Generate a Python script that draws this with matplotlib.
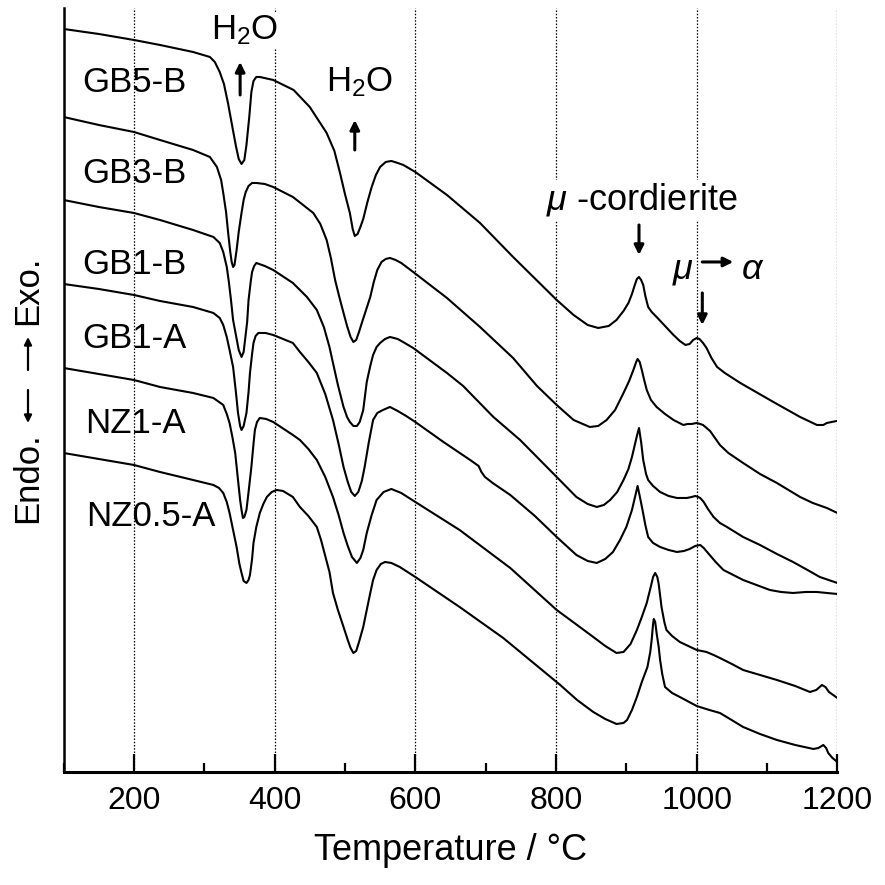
import matplotlib
matplotlib.use("Agg")
import matplotlib.pyplot as plt
from matplotlib.ticker import MultipleLocator

plt.rcParams['font.family'] = ['Liberation Sans', 'DejaVu Sans']
plt.rcParams['mathtext.fontset'] = 'custom'
plt.rcParams['mathtext.rm'] = 'Liberation Sans'
plt.rcParams['mathtext.it'] = 'Liberation Sans:italic'

# ---- data: (temperature degC, DTA signal in arbitrary units) ----
gb5b = [(100, 743), (150, 738), (200, 732), (237, 727), (284, 720), (308, 715), (315, 710), (322, 700),
        (328, 688), (334, 668), (340, 645), (345, 626), (349, 613), (353, 608), (357, 612), (360, 627),
        (364, 655), (367, 680), (370, 691), (374, 695), (379, 695), (398, 692), (427, 682), (450, 665),
        (474, 639), (485, 621), (493, 599), (500, 578), (507, 559), (511, 543), (514, 536), (518, 538),
        (522, 545), (526, 553), (532, 570), (538, 585), (544, 597), (550, 605), (558, 610), (566, 611),
        (575, 609), (583, 607), (600, 600), (645, 577), (692, 549), (739, 515), (801, 472), (825, 457),
        (845, 447), (860, 444), (875, 446), (886, 452), (896, 461), (903, 469), (908, 478), (912, 487),
        (915, 493), (918, 495), (921, 492), (924, 487), (927, 476), (931, 465), (936, 460), (943, 455),
        (955, 446), (967, 437), (976, 431), (984, 427), (990, 428), (995, 432), (1000, 434), (1004, 433),
        (1009, 429), (1014, 424), (1021, 414), (1029, 405), (1040, 399), (1062, 389), (1109, 370),
        (1147, 355), (1171, 347), (1180, 347), (1185, 349), (1192, 350), (1199, 351)]

gb3b = [(100, 655), (150, 647), (200, 640), (237, 632), (284, 622), (308, 615), (318, 605), (324, 592),
        (327, 579), (331, 560), (334, 539), (337, 520), (339, 510), (341, 505), (343, 507), (346, 522),
        (349, 540), (353, 559), (356, 572), (359, 580), (363, 586), (368, 589), (374, 589), (386, 588),
        (398, 585), (426, 575), (455, 559), (465, 548), (474, 532), (480, 514), (486, 492), (492, 475),
        (498, 459), (503, 446), (508, 435), (512, 430), (516, 432), (520, 440), (524, 449), (530, 462),
        (536, 475), (541, 490), (546, 502), (552, 510), (558, 513), (564, 514), (572, 512), (580, 509),
        (597, 500), (645, 474), (692, 445), (739, 414), (773, 386), (801, 367), (825, 352), (848, 345),
        (860, 346), (872, 352), (884, 362), (896, 379), (904, 391), (910, 402), (914, 410), (916, 413),
        (919, 410), (922, 402), (925, 393), (929, 382), (935, 372), (943, 365), (955, 358), (967, 352),
        (981, 347), (987, 348), (993, 348), (1000, 349), (1005, 348), (1009, 347), (1014, 344),
        (1019, 341), (1026, 334), (1033, 327), (1045, 319), (1066, 309), (1090, 298), (1114, 289),
        (1147, 275), (1165, 269), (1185, 264), (1200, 259)]

gb1b = [(100, 572), (150, 565), (200, 559), (237, 552), (284, 542), (313, 535), (322, 529), (327, 520),
        (332, 505), (335, 490), (338, 472), (341, 452), (345, 437), (349, 422), (353, 415), (356, 420),
        (358, 432), (361, 450), (363, 472), (366, 490), (368, 500), (371, 506), (374, 509), (386, 506),
        (398, 502), (426, 489), (446, 475), (460, 462), (470, 445), (478, 425), (483, 409), (490, 387),
        (498, 365), (503, 355), (507, 350), (512, 346), (517, 346), (521, 350), (526, 362), (531, 390),
        (536, 406), (540, 417), (545, 425), (550, 429), (557, 433), (564, 435), (575, 433), (585, 429),
        (597, 424), (645, 399), (668, 386), (711, 355), (749, 332), (801, 295), (829, 275), (845, 268),
        (858, 265), (868, 267), (877, 272), (887, 280), (896, 292), (903, 303), (908, 315), (912, 327),
        (915, 336), (918, 344), (921, 330), (924, 312), (928, 298), (931, 292), (938, 286), (948, 280),
        (960, 276), (972, 274), (986, 274), (993, 275), (998, 276), (1002, 275), (1005, 274),
        (1010, 270), (1016, 263), (1024, 255), (1033, 249), (1043, 245), (1066, 235), (1090, 227),
        (1114, 218), (1137, 210), (1160, 201), (1175, 195), (1200, 189)]

gb1a = [(100, 488), (150, 483), (200, 477), (237, 471), (284, 465), (313, 459), (322, 454), (327, 447),
        (332, 435), (336, 422), (341, 405), (345, 380), (348, 359), (351, 346), (353, 342), (356, 346),
        (360, 359), (363, 380), (365, 399), (368, 418), (370, 429), (373, 436), (377, 439), (387, 439),
        (398, 437), (426, 429), (436, 420), (448, 410), (460, 399), (472, 378), (483, 352), (491, 328),
        (498, 305), (504, 290), (509, 280), (514, 276), (519, 280), (524, 291), (528, 305), (534, 330),
        (540, 352), (546, 359), (554, 362), (564, 365), (575, 361), (587, 356), (600, 350), (640, 330),
        (678, 312), (690, 306), (694, 300), (699, 295), (710, 289), (735, 277), (770, 256), (801, 235),
        (829, 217), (845, 211), (858, 209), (870, 213), (881, 220), (891, 232), (900, 245), (908, 262),
        (912, 274), (916, 286), (919, 276), (923, 262), (927, 247), (931, 235), (938, 229), (948, 225),
        (960, 222), (972, 220), (982, 221), (990, 223), (998, 226), (1005, 227), (1010, 224),
        (1016, 219), (1027, 210), (1038, 202), (1052, 197), (1066, 192), (1085, 187), (1104, 182),
        (1120, 180), (1137, 179), (1155, 180), (1171, 180), (1185, 179), (1200, 178)]

nz1a = [(100, 404), (150, 398), (200, 392), (237, 385), (284, 379), (313, 374), (321, 370), (327, 367),
        (332, 358), (336, 349), (340, 335), (344, 319), (348, 292), (351, 272), (353, 262), (355, 254),
        (357, 255), (360, 262), (363, 280), (367, 305), (370, 328), (372, 342), (375, 350), (379, 354),
        (388, 353), (398, 350), (426, 337), (436, 332), (448, 323), (460, 312), (472, 295), (483, 275),
        (491, 257), (498, 239), (504, 226), (510, 215), (517, 209), (522, 214), (526, 222), (531, 239),
        (538, 257), (545, 272), (555, 280), (566, 283), (580, 279), (600, 270), (663, 242), (735, 204),
        (801, 162), (830, 147), (853, 135), (870, 126), (886, 119), (896, 120), (906, 128), (915, 142),
        (922, 155), (929, 169), (935, 186), (938, 195), (941, 199), (944, 195), (946, 188), (950, 165),
        (954, 150), (957, 142), (965, 136), (976, 130), (1000, 122), (1014, 120), (1024, 117),
        (1033, 114), (1050, 108), (1066, 102), (1090, 97), (1114, 92), (1140, 86), (1161, 80),
        (1170, 82), (1178, 87), (1183, 85), (1188, 80), (1200, 74)]

nz05a = [(100, 319), (150, 313), (200, 307), (237, 300), (284, 292), (313, 287), (321, 284), (327, 279),
         (332, 270), (336, 259), (341, 242), (346, 225), (350, 208), (353, 199), (356, 191), (360, 189),
         (363, 192), (365, 197), (368, 213), (370, 229), (374, 245), (379, 259), (384, 268), (389, 275),
         (396, 280), (403, 282), (412, 281), (426, 275), (436, 265), (448, 256), (460, 245), (466, 232),
         (472, 216), (478, 200), (483, 179), (490, 162), (498, 145), (504, 132), (508, 124), (512, 119),
         (516, 121), (520, 130), (526, 145), (531, 162), (536, 179), (540, 192), (545, 202), (551, 208),
         (557, 210), (566, 209), (578, 205), (600, 195), (663, 165), (725, 134), (806, 87), (830, 72),
         (853, 60), (870, 53), (886, 48), (896, 49), (901, 52), (908, 62), (915, 75), (922, 90),
         (930, 105), (934, 120), (936, 132), (938, 148), (939, 153), (941, 150), (943, 139), (946, 125),
         (948, 112), (951, 98), (955, 85), (965, 79), (976, 75), (1000, 66), (1018, 62), (1033, 59),
         (1045, 54), (1066, 45), (1090, 38), (1114, 32), (1140, 27), (1166, 23), (1173, 24), (1180, 27),
         (1184, 24), (1187, 19), (1193, 14), (1200, 10)]

series = [gb5b, gb3b, gb1b, gb1a, nz1a, nz05a]
sample_names = ['GB5-B', 'GB3-B', 'GB1-B', 'GB1-A', 'NZ1-A', 'NZ0.5-A']
name_pos = [(126, 689), (126, 598), (126, 507), (127, 433), (131, 348), (132, 255)]
x_major = [200, 400, 600, 800, 1000, 1200]

fig = plt.figure(figsize=(8.85, 8.85), dpi=100)
ax = fig.add_axes([0.0718, 0.1277, 0.8744, 0.8633])

for pts in series:
    T = [p[0] for p in pts]
    y = [p[1] for p in pts]
    ax.plot(T, y, color='black', lw=1.5, solid_joinstyle='round', solid_capstyle='round', zorder=3)

ax.set_xlim(100, 1200)
ax.set_ylim(0, 764)
ax.set_xticks(x_major)
ax.xaxis.set_minor_locator(MultipleLocator(100))
ax.set_yticks([])
ax.tick_params(axis='x', which='major', direction='in', length=13, width=1.6,
               labelsize=23, pad=10)
ax.tick_params(axis='x', which='minor', direction='in', length=6.5, width=1.6)
for s in ['top', 'right']:
    ax.spines[s].set_visible(False)
ax.spines['left'].set_linewidth(1.8)
ax.spines['bottom'].set_linewidth(2.2)
ax.grid(axis='x', which='major', color='black', lw=0.9, linestyle=(0, (1.2, 1.4)), zorder=1)
ax.set_axisbelow(True)

ax.set_xlabel('Temperature / °C', fontsize=26, labelpad=12)

# y label built from pieces (text + arrows), rotated
fig.text(28 / 885, 1 - 478 / 885, 'Endo.', rotation=90, fontsize=25, ha='center', va='center')
fig.text(28 / 885, 1 - 290 / 885, 'Exo.', rotation=90, fontsize=25, ha='center', va='center')
yap = dict(arrowstyle='-|>', color='black', lw=1.6, mutation_scale=11, shrinkA=0, shrinkB=0)
ax.annotate('', xy=(28, 885 - 423), xytext=(28, 885 - 390), xycoords='figure pixels',
            textcoords='figure pixels', arrowprops=yap, annotation_clip=False)
ax.annotate('', xy=(28, 885 - 337), xytext=(28, 885 - 370), xycoords='figure pixels',
            textcoords='figure pixels', arrowprops=yap, annotation_clip=False)

for name, (tx, ty) in zip(sample_names, name_pos):
    ax.text(tx, ty, name, fontsize=25, ha='left', va='center', zorder=4)

bb = dict(facecolor='white', edgecolor='none', pad=1)
ax.text(358, 742, r'H$_2$O', fontsize=25, ha='center', va='center', bbox=bb, zorder=4)
ax.text(521, 690, r'H$_2$O', fontsize=25, ha='center', va='center', bbox=bb, zorder=4)
ax.text(922, 572, r'$\mu$ -cordierite', fontsize=26, ha='center', va='center', bbox=bb, zorder=4)
ax.text(981, 502, r'$\mu$', fontsize=26, ha='center', va='center', bbox=bb, zorder=4)
ax.text(1079, 502, r'$\alpha$', fontsize=26, ha='center', va='center', bbox=bb, zorder=4)

ap = dict(arrowstyle='-|>', color='black', lw=2.2, mutation_scale=14, shrinkA=0, shrinkB=0)
ax.annotate('', xy=(351, 710), xytext=(351, 677), arrowprops=ap, zorder=5)
ax.annotate('', xy=(514, 652), xytext=(514, 622), arrowprops=ap, zorder=5)
ax.annotate('', xy=(918, 517), xytext=(918, 547), arrowprops=ap, zorder=5)
ax.annotate('', xy=(1008, 447), xytext=(1008, 479), arrowprops=ap, zorder=5)
ax.annotate('', xy=(1052, 510), xytext=(1008, 510), arrowprops=ap, zorder=5)

fig.savefig('out.png', dpi=100)
